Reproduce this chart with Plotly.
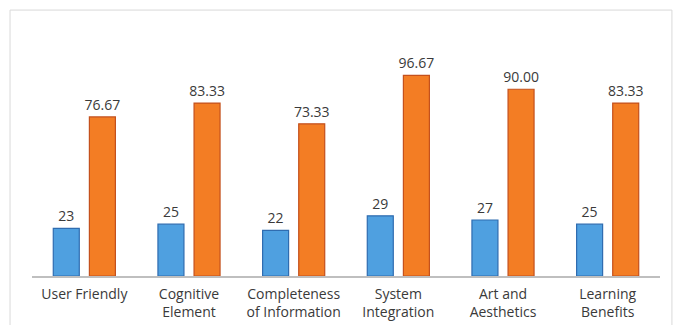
import plotly.graph_objects as go

categories = ["User Friendly", "Cognitive<br>Element", "Completeness<br>of Information",
              "System<br>Integration", "Art and<br>Aesthetics", "Learning<br>Benefits"]
series_a = [23, 25, 22, 29, 27, 25]
series_b = [76.67, 83.33, 73.33, 96.67, 90.00, 83.33]
labels_a = ["23", "25", "22", "29", "27", "25"]
labels_b = ["76.67", "83.33", "73.33", "96.67", "90.00", "83.33"]

font_family = "'Open Sans', Lato, sans-serif"
text_color = "#3A3A3A"

fig = go.Figure()
fig.add_trace(go.Bar(
    x=categories, y=series_a, text=labels_a, textposition="outside",
    constraintext="none",
    marker=dict(color="#4FA0E0", line=dict(color="#2F6CB0", width=1.2)),
    textfont=dict(size=14, color=text_color, family=font_family),
    cliponaxis=False, showlegend=False,
))
fig.add_trace(go.Bar(
    x=categories, y=series_b, text=labels_b, textposition="outside",
    constraintext="none",
    marker=dict(color="#F37D24", line=dict(color="#C4501C", width=1.2)),
    textfont=dict(size=14, color=text_color, family=font_family),
    cliponaxis=False, showlegend=False,
))

fig.update_layout(
    width=682, height=325,
    margin=dict(l=32, r=22, t=27, b=49),
    paper_bgcolor="white", plot_bgcolor="white",
    barmode="group", bargap=0.31, bargroupgap=0.28,
    font=dict(family=font_family, size=14, color=text_color),
    xaxis=dict(showline=True, linecolor="#BFBFBF", linewidth=1.5, ticks="",
               ticklabelstandoff=4, automargin=False,
               showgrid=False, tickfont=dict(size=14, color=text_color, family=font_family)),
    yaxis=dict(range=[0, 120], visible=False, showgrid=False, zeroline=False,
               automargin=False),
    shapes=[dict(type="rect", xref="paper", yref="paper",
                 x0=-0.035, x1=1.019, y0=-0.25, y1=1.068,
                 line=dict(color="#D9D9D9", width=1), fillcolor="rgba(0,0,0,0)",
                 layer="below")],
)

fig.write_html("out.html")
